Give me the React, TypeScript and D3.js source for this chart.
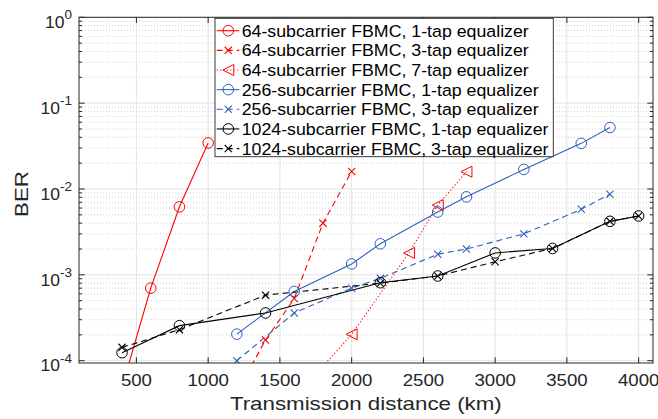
import React from "react";
import * as d3 from "d3";

const s64_1x = [400, 600, 800, 1000];
const s64_1y = [4.9e-5, 7.0e-4, 6.2e-3, 3.44e-2];
const s64_3x = [1200, 1400, 1600, 1800, 2000];
const s64_3y = [4.3e-5, 1.74e-4, 5.3e-4, 4.0e-3, 1.6e-2];
const s64_7x = [1800, 2000, 2400, 2600, 2800];
const s64_7y = [8.6e-5, 2.03e-4, 1.8e-3, 6.5e-3, 1.59e-2];
const s256_1x = [1200, 1600, 2000, 2200, 2600, 2800, 3200, 3600, 3800];
const s256_1y = [2.04e-4, 6.4e-4, 1.34e-3, 2.3e-3, 5.4e-3, 8.1e-3, 1.69e-2, 3.4e-2, 5.2e-2];
const s256_3x = [1200, 1600, 2000, 2200, 2600, 2800, 3200, 3600, 3800];
const s256_3y = [1.0e-4, 3.6e-4, 7.0e-4, 9.1e-4, 1.74e-3, 2.0e-3, 3.0e-3, 5.8e-3, 8.7e-3];
const s1024_1x = [400, 800, 1400, 2200, 2600, 3000, 3400, 3800, 4000];
const s1024_1y = [1.24e-4, 2.56e-4, 3.6e-4, 8.1e-4, 9.7e-4, 1.8e-3, 2.03e-3, 4.2e-3, 4.85e-3];
const s1024_3x = [400, 800, 1400, 2200, 2600, 3000, 3400, 3800, 4000];
const s1024_3y = [1.43e-4, 2.3e-4, 5.8e-4, 8.0e-4, 9.7e-4, 1.42e-3, 2.03e-3, 4.2e-3, 4.85e-3];

const legendLabels = [
  "64-subcarrier FBMC, 1-tap equalizer",
  "64-subcarrier FBMC, 3-tap equalizer",
  "64-subcarrier FBMC, 7-tap equalizer",
  "256-subcarrier FBMC, 1-tap equalizer",
  "256-subcarrier FBMC, 3-tap equalizer",
  "1024-subcarrier FBMC, 1-tap equalizer",
  "1024-subcarrier FBMC, 3-tap equalizer",
];
const xTicks = [500, 1000, 1500, 2000, 2500, 3000, 3500, 4000];
const yDecades = [-4, -3, -2, -1, 0];
const xLabel = "Transmission distance (km)";
const yLabel = "BER";

const RED = "#ff0000";
const BLUE = "#2f5fbd";
const BLACK = "#000000";

type Marker = "circle" | "x" | "tri";
const series = [
  { xs: s64_1x, ys: s64_1y, color: RED, dash: "", marker: "circle" as Marker },
  { xs: s64_3x, ys: s64_3y, color: RED, dash: "6,4", marker: "x" as Marker },
  { xs: s64_7x, ys: s64_7y, color: RED, dash: "1.2,2.2", marker: "tri" as Marker },
  { xs: s256_1x, ys: s256_1y, color: BLUE, dash: "", marker: "circle" as Marker },
  { xs: s256_3x, ys: s256_3y, color: BLUE, dash: "6,4", marker: "x" as Marker },
  { xs: s1024_1x, ys: s1024_1y, color: BLACK, dash: "", marker: "circle" as Marker },
  { xs: s1024_3x, ys: s1024_3y, color: BLACK, dash: "6,4", marker: "x" as Marker },
];

const W = 658;
const H = 419;
const L = 79, R = 653, T = 17.3, B = 363;
const YMIN = 9.4e-5;

function MarkerShape({ type, cx, cy, color }: { type: Marker; cx: number; cy: number; color: string }) {
  if (type === "circle") return <circle cx={cx} cy={cy} r={5.3} fill="none" stroke={color} strokeWidth={1} />;
  if (type === "x") {
    const s = 3.6;
    return (
      <path
        d={`M${cx - s},${cy - s}L${cx + s},${cy + s}M${cx - s},${cy + s}L${cx + s},${cy - s}`}
        stroke={color}
        strokeWidth={1.1}
        fill="none"
      />
    );
  }
  const s = 5.5;
  return (
    <path
      d={`M${cx - s},${cy}L${cx + s},${cy - s}L${cx + s},${cy + s}Z`}
      stroke={color}
      strokeWidth={1}
      fill="none"
    />
  );
}

export default function App() {
  const x = d3.scaleLinear().domain([100, 4100]).range([L, R]);
  const y = d3.scaleLog().domain([YMIN, 1]).range([B, T]);
  const line = d3
    .line<[number, number]>()
    .x((d) => x(d[0]))
    .y((d) => y(d[1]));

  const minor: number[] = [];
  for (let e = -5; e < 0; e++) for (let m = 2; m <= 9; m++) {
    const v = m * Math.pow(10, e);
    if (v >= YMIN && v <= 1) minor.push(v);
  }
  const axisColor = "#262626";
  const font = "'Liberation Sans', Arial, Helvetica, sans-serif";

  return (
    <svg width={W} height={H} style={{ position: "absolute", left: 0, top: 0, background: "#fff" }} fontFamily={font}>
      <defs>
        <clipPath id="plotclip">
          <rect x={L} y={T} width={R - L} height={B - T} />
        </clipPath>
      </defs>
      <rect x={L} y={T} width={R - L} height={B - T} fill="#fff" />
      {minor.map((v) => (
        <line key={"mg" + v} x1={L} x2={R} y1={y(v)} y2={y(v)} stroke="#bdbdbd" strokeWidth={0.7} strokeDasharray="1,2" />
      ))}
      {xTicks.map((t) => (
        <line key={"gx" + t} x1={x(t)} x2={x(t)} y1={T} y2={B} stroke="#e3e3e3" strokeWidth={1} />
      ))}
      {yDecades.map((e) => (
        <line key={"gy" + e} x1={L} x2={R} y1={y(Math.pow(10, e))} y2={y(Math.pow(10, e))} stroke="#e3e3e3" strokeWidth={1} />
      ))}
      <g clipPath="url(#plotclip)">
        {series.map((s, i) => (
          <path
            key={"l" + i}
            d={line(s.xs.map((v, j) => [v, s.ys[j]] as [number, number])) || ""}
            fill="none"
            stroke={s.color}
            strokeWidth={1.1}
            strokeDasharray={s.dash || undefined}
          />
        ))}
        {series.map((s, i) =>
          s.xs.map((v, j) =>
            s.ys[j] >= YMIN ? (
              <MarkerShape key={"m" + i + "-" + j} type={s.marker} cx={x(v)} cy={y(s.ys[j])} color={s.color} />
            ) : null
          )
        )}
      </g>
      <rect x={L} y={T} width={R - L} height={B - T} fill="none" stroke={axisColor} strokeWidth={1} />
      {xTicks.map((t) => (
        <g key={"xt" + t}>
          <line x1={x(t)} x2={x(t)} y1={B} y2={B - 5.7} stroke={axisColor} strokeWidth={1} />
          <line x1={x(t)} x2={x(t)} y1={T} y2={T + 5.7} stroke={axisColor} strokeWidth={1} />
          <text transform={`translate(${x(t)},385.7) scale(1.15,1)`} textAnchor="middle" fontSize={16.2} fill={axisColor}>
            {t}
          </text>
        </g>
      ))}
      {yDecades.map((e) => {
        const yy = y(Math.pow(10, e));
        return (
          <g key={"yt" + e}>
            <line x1={L} x2={L + 5.7} y1={yy} y2={yy} stroke={axisColor} strokeWidth={1} />
            <line x1={R} x2={R - 5.7} y1={yy} y2={yy} stroke={axisColor} strokeWidth={1} />
            <text transform={`translate(72,${yy + 10.8}) scale(1.08,1)`} textAnchor="end" fontSize={16.2} fill={axisColor}>
              10
              <tspan fontSize={12.5} dy={-9}>{e === 0 ? "0" : "-" + Math.abs(e)}</tspan>
            </text>
          </g>
        );
      })}
      {minor.map((v) => (
        <g key={"ym" + v}>
          <line x1={L} x2={L + 3} y1={y(v)} y2={y(v)} stroke={axisColor} strokeWidth={1} />
          <line x1={R} x2={R - 3} y1={y(v)} y2={y(v)} stroke={axisColor} strokeWidth={1} />
        </g>
      ))}
      <text transform={`translate(365.8,410) scale(1.2,1)`} textAnchor="middle" fontSize={18.6} fill={axisColor}>
        {xLabel}
      </text>
      <text transform={`translate(28.4,194) rotate(-90) scale(1.2,1)`} textAnchor="middle" fontSize={18.6} fill={axisColor}>
        {yLabel}
      </text>
      <rect x={215} y={18.3} width={338.3} height={138.4} fill="#fff" stroke={axisColor} strokeWidth={0.9} />
      {series.map((s, i) => {
        const cy = 30.7 + i * 19.65;
        return (
          <g key={"lg" + i}>
            <line x1={216.7} x2={239.3} y1={cy} y2={cy} stroke={s.color} strokeWidth={1.1} strokeDasharray={s.dash || undefined} />
            <MarkerShape type={s.marker} cx={228.3} cy={cy} color={s.color} />
            <text transform={`translate(241.7,${cy + 6}) scale(1.09,1)`} fontSize={16.3} fill="#000">
              {legendLabels[i]}
            </text>
          </g>
        );
      })}
    </svg>
  );
}
